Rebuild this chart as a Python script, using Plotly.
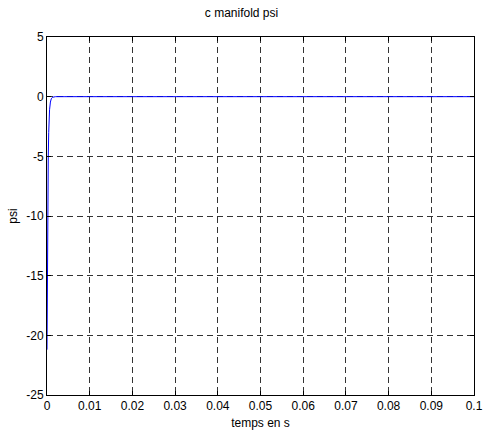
import plotly.graph_objects as go

# pressure response of the manifold (psi) versus time (s)
temps = [0, 0.00005, 0.0001, 0.00015, 0.0002, 0.0003, 0.0004, 0.0005, 0.0006,
         0.0008, 0.001, 0.0013, 0.0016, 0.002, 0.004, 0.01, 0.05, 0.1]
psi = [-21.2, -17.0, -13.5, -10.5, -8.2, -5.0, -3.0, -1.8, -1.1,
       -0.45, -0.18, -0.05, -0.01, 0.0, 0.0, 0.0, 0.0, 0.0]

x_ticks = [0, 0.01, 0.02, 0.03, 0.04, 0.05, 0.06, 0.07, 0.08, 0.09, 0.1]
x_tick_text = ["0", "0.01", "0.02", "0.03", "0.04", "0.05", "0.06", "0.07", "0.08", "0.09", "0.1"]
y_ticks = [-25, -20, -15, -10, -5, 0, 5]
y_tick_text = ["-25", "-20", "-15", "-10", "-5", "0", "5"]

font_family = "Liberation Sans, Arial, sans-serif"

fig = go.Figure()
fig.add_trace(go.Scatter(x=temps, y=psi, mode="lines",
                         line=dict(color="#0000ff", width=1), showlegend=False))

axis_common = dict(
    showline=True, linecolor="black", linewidth=1, mirror="ticks",
    ticks="inside", ticklen=4, tickcolor="black",
    showgrid=True, gridcolor="rgba(0,0,0,0.8)", gridwidth=1, griddash="6px,4px",
    zeroline=False, tickfont=dict(family=font_family, size=12, color="black"),
)

fig.update_xaxes(range=[0, 0.1], tickvals=x_ticks, ticktext=x_tick_text,
                 title=dict(text="temps en s", font=dict(family=font_family, size=12, color="black"), standoff=6),
                 **axis_common)
fig.update_yaxes(range=[-25, 5], tickvals=y_ticks, ticktext=y_tick_text,
                 title=dict(text="psi", font=dict(family=font_family, size=12, color="black"), standoff=6),
                 **axis_common)

fig.update_layout(
    width=483, height=436,
    margin=dict(l=47, r=9, t=37, b=41, autoexpand=False),
    plot_bgcolor="white", paper_bgcolor="white",
    title=dict(text="c manifold psi", x=0.5, xanchor="center", y=1 - 13 / 436, yanchor="middle",
               font=dict(family=font_family, size=12, color="black")),
)

fig.write_html("out.html")
